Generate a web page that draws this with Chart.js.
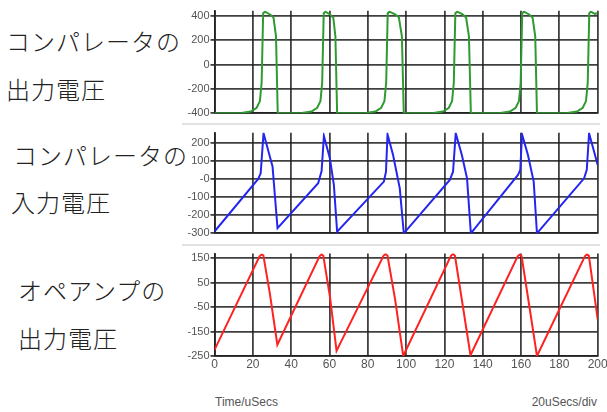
<!DOCTYPE html>
<html>
<head>
<meta charset="utf-8">
<script src="https://cdn.jsdelivr.net/npm/chart.js@4.4.1/dist/chart.umd.min.js"></script>
<style>
body { margin:0; width:607px; height:412px; background:#fff; position:relative; overflow:hidden; }
.lbl { position:absolute; font-family:"Noto Sans CJK JP"; font-weight:300; font-size:24px; letter-spacing:1px; line-height:1; color:#222; white-space:nowrap; }
canvas { position:absolute; left:160px; }
.sep { position:absolute; left:182px; width:418px; height:2px; background:#e2e2e2; }
.ax { position:absolute; font:12px "Liberation Sans"; color:#555; white-space:nowrap; }
</style>
</head>
<body>
<div class="lbl" style="left:6px;top:29px">コンパレータの</div>
<div class="lbl" style="left:6px;top:77px">出力電圧</div>
<div class="lbl" style="left:13px;top:143px">コンパレータの</div>
<div class="lbl" style="left:11px;top:190px">入力電圧</div>
<div class="lbl" style="left:18px;top:278px">オペアンプの</div>
<div class="lbl" style="left:18px;top:326px">出力電圧</div>

<div class="sep" style="top:123px"></div>
<div class="sep" style="top:244px"></div>

<canvas id="c1" width="447" height="122" style="top:0px"></canvas>
<canvas id="c2" width="447" height="120" style="top:124px"></canvas>
<canvas id="c3" width="447" height="130" style="top:246px"></canvas>

<div class="ax" style="left:215px;top:395px">Time/uSecs</div>
<div class="ax" style="right:10px;top:395px">20uSecs/div</div>

<script>
// time axis
const xTicks = [0, 20, 40, 60, 80, 100, 120, 140, 160, 180, 200];

// comparator output (green)
const outT = [0, 14, 19, 22, 23.7, 24.6, 25.4, 26.3, 29, 30.8, 32.1, 33.0,
  45.6, 50.6, 53.6, 55.3, 56.2, 57.0, 57.9, 60.3, 62.0, 63.1, 64.0,
  79, 84, 87, 88.7, 89.6, 90.4, 91.3, 94, 96.2, 97.8, 98.8,
  114.3, 119.3, 122.3, 124, 124.9, 125.7, 126.6, 129.3, 131.3, 132.8, 133.8,
  149.2, 154.2, 157.2, 158.9, 159.8, 160.6, 161.5, 164.2, 166, 167.4, 168.3,
  184.2, 189.2, 192.2, 193.9, 194.8, 195.6, 196.5, 198.5, 200];
const outV = [-400, -398, -385, -355, -300, -150, 420, 433, 410, 385, 230, -400,
  -398, -385, -355, -300, -150, 420, 433, 410, 385, 230, -400,
  -398, -385, -355, -300, -150, 420, 433, 412, 388, 230, -400,
  -398, -385, -355, -300, -150, 420, 433, 412, 386, 230, -400,
  -398, -385, -355, -300, -150, 420, 433, 410, 385, 230, -400,
  -398, -385, -355, -300, -150, 420, 433, 415, 420];

// comparator input (blue)
const inT = [0, 22.8, 24.1, 25.6, 30.3, 32.9,
  54.1, 55.9, 57.1, 60.2, 62.3, 64.0,
  88.4, 89.5, 90.3, 93.2, 96.7, 98.8,
  122.8, 124.5, 125.9, 129.1, 131.8, 133.8,
  158.4, 159.6, 160.5, 163.6, 166.6, 168.3,
  192.9, 194.3, 195.5, 200];
const inV = [-290, 0, 31, 252, 68, -272,
  -24, 43, 237, 114, -33, -291,
  -15, 40, 246, 132, -52, -300,
  -6, 40, 252, 132, 3, -300,
  22, 50, 246, 132, -15, -300,
  3, 50, 252, 77];

// op-amp output (red)
const ampT = [0, 23.5, 24.6, 25.5, 28.9, 32.8,
  54.8, 55.9, 56.8, 60.3, 63.7,
  88.2, 89.3, 90.3, 94.3, 98.5,
  123.4, 124.5, 125.5, 129.3, 133.6,
  158.2, 159.3, 160.3, 164, 168.3,
  193.3, 194.4, 195.4, 200];
const ampV = [-225, 158, 166, 162, 5, -204,
  158, 166, 160, -10, -229,
  160, 168, 160, -20, -250,
  160, 168, 160, -30, -247,
  158, 165, 158, -30, -250,
  158, 166, 160, -100];

const y1Ticks = [400, 300, 200, 100, 0, -100, -200, -300, -400];
const y1Labels = ['400', '', '200', '', '0', '', '-200', '', '-400'];
const y2Ticks = [200, 100, 0, -100, -200, -300];
const y2Labels = ['200', '100', '-0', '-100', '-200', '-300'];
const y3Ticks = [150, 100, 50, 0, -50, -100, -150, -200, -250];
const y3Labels = ['150', '', '50', '', '-50', '', '-150', '', '-250'];

const gridCol = 'rgba(30,30,30,0.85)';

function pts(t, v) {
  return t.map((x, i) => ({ x: x, y: v[i] }));
}

function makeChart(id, t, v, color, yMin, yMax, yTicks, yLabels, pad, showX) {
  return new Chart(document.getElementById(id), {
    type: 'line',
    data: {
      datasets: [{
        data: pts(t, v),
        borderColor: color,
        borderWidth: 2,
        pointRadius: 0,
        tension: 0,
        fill: false
      }]
    },
    options: {
      responsive: false,
      animation: false,
      layout: { padding: pad },
      plugins: { legend: { display: false }, tooltip: { enabled: false } },
      scales: {
        x: {
          type: 'linear',
          min: 0,
          max: 200,
          afterBuildTicks: (s) => { s.ticks = xTicks.map(x => ({ value: x })); },
          afterFit: (s) => {
            s.height = showX ? 20 : 0;
            s.paddingLeft = 0; s.paddingRight = 0;
          },
          grid: { color: gridCol, lineWidth: 1.8, drawTicks: false },
          border: { color: gridCol, width: 1.8 },
          ticks: {
            display: showX,
            padding: 1,
            color: '#555',
            font: { family: 'Liberation Sans', size: 12 },
            maxRotation: 0
          }
        },
        y: {
          min: yMin,
          max: yMax,
          afterBuildTicks: (s) => { s.ticks = yTicks.map(y => ({ value: y })); },
          afterFit: (s) => {
            s.width = 54.5;
            s.paddingTop = 0; s.paddingBottom = 0;
          },
          grid: {
            color: gridCol, lineWidth: 1.8, tickLength: 4,
            tickColor: (ctx) => yLabels[yTicks.indexOf(ctx.tick.value)] ? gridCol : 'rgba(0,0,0,0)'
          },
          border: { color: gridCol, width: 1.8 },
          ticks: {
            padding: 1,
            color: '#555',
            font: { family: 'Liberation Sans', size: 11 },
            callback: (val) => yLabels[yTicks.indexOf(val)]
          }
        }
      }
    }
  });
}

makeChart('c1', outT, outV, '#2f9a2f', -400, 440, y1Ticks, y1Labels,
  { top: 10.8, right: 9.3, bottom: 8.7, left: 0 }, false);
makeChart('c2', inT, inV, '#2525f0', -300, 255, y2Ticks, y2Labels,
  { top: 8.7, right: 9.3, bottom: 10.7, left: 0 }, false);
makeChart('c3', ampT, ampV, '#ff2222', -250, 170, y3Ticks, y3Labels,
  { top: 7.4, right: 9.3, bottom: 0, left: 0 }, true);
</script>
</body>
</html>
